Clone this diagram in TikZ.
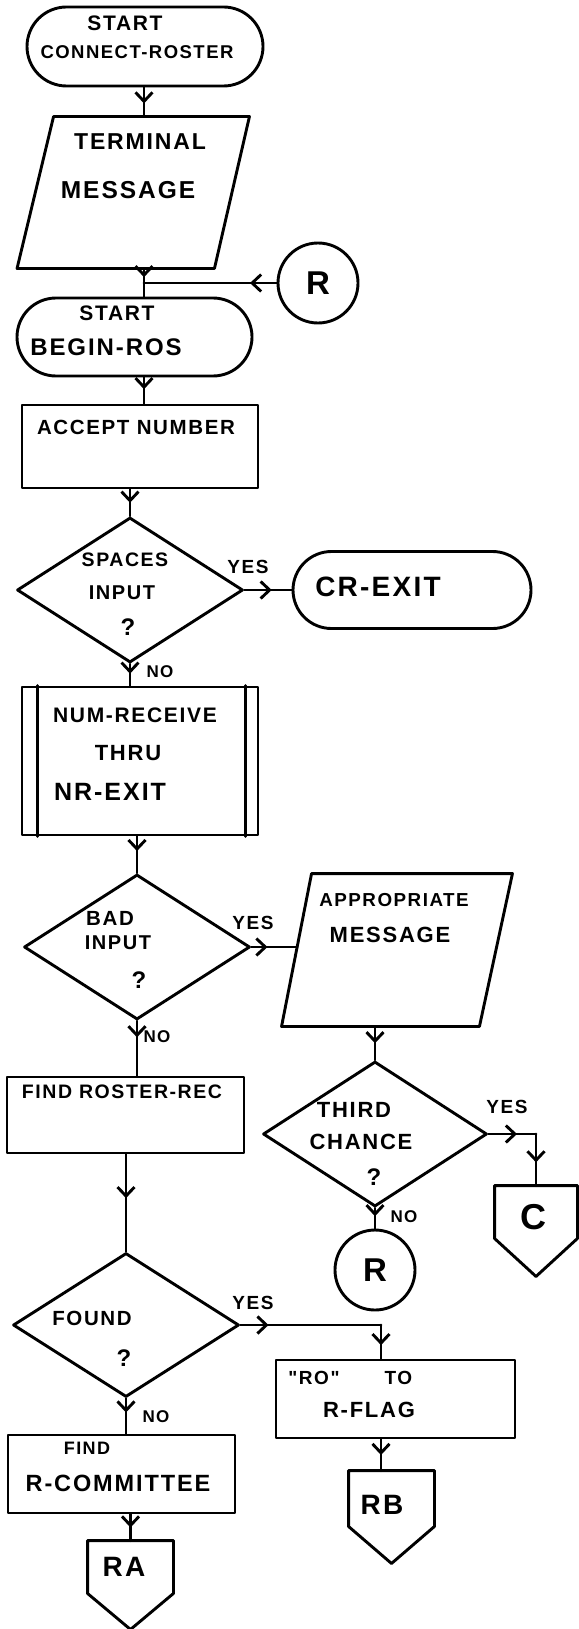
\documentclass[tikz,border=0pt]{standalone}
\usepackage{fontspec}
\newfontfamily\handfont[LetterSpace=8]{Liberation Sans}
\usetikzlibrary{shapes.geometric,shapes.misc,arrows.meta,decorations.markings,calc}
\newcommand\hsz[1]{\fontsize{#1}{#1}\selectfont}

\begin{document}
\begin{tikzpicture}[x=1pt,y=-1pt,
  line width=2.9pt, line join=round, line cap=round,
  box/.style={draw, rectangle, inner sep=0pt},
  term/.style={draw, rounded rectangle, inner sep=0pt},
  dec/.style={draw, diamond, inner sep=0pt},
  conn/.style={draw, circle, inner sep=0pt, minimum size=80pt},
  frame/.style={rectangle, inner sep=0pt},
  txt/.style={inner sep=0pt, font={\handfont\bfseries\hsz{#1}}},
  txt/.default=18,
  flow/.style={postaction={decorate}, decoration={markings,
      mark=at position #1 with {\arrow{Straight Barb[length=9pt,width=17pt]}}}},
  flow/.default=0.5]

\fill[white] (0,0) rectangle (578,1629);
\useasboundingbox (0,0) rectangle (578,1629);

% ---------- entry: CONNECT-ROSTER ----------
\node[term, minimum width=236pt, minimum height=79pt] (start) at (145,46.5) {};
\node[txt=21] (tStartA) at (125,23) {START};
\node[txt=18.5] (tConnect) at (137,52) {CONNECT-ROSTER};

% terminal message (input/output)
\node[frame, minimum width=229.5pt, minimum height=149pt] (msg) at (133.25,192.5) {};
\draw ($(msg.north west)+(36.5,0)$) -- (msg.north east) -- ($(msg.south east)+(-35,0)$) -- (msg.south west) -- cycle;
\node[txt=23] (tTerminal) at (140,142) {TERMINAL};
\node[txt=24.5] (tMessage) at (128,190) {MESSAGE};

% re-entry point R
\coordinate (J) at (144,283);
\node[conn] (rA) at (318,283) {};
\node[txt=33] (tRA) at (rA) {R};

% BEGIN-ROS
\node[term, minimum width=235pt, minimum height=78pt] (begin) at (134.5,337) {};
\node[txt=21] (tStartB) at (117,313) {START};
\node[txt=24] (tBegin) at (106,347) {BEGIN-ROS};

% accept number
\node[box, minimum width=236pt, minimum height=83pt] (accept) at (140,446.5) {};
\node[txt=20.5] (tAccept) at (136,427) {ACCEPT NUMBER};

% spaces input ?
\node[dec, minimum width=226pt, minimum height=145pt] (spaces) at (130,590) {};
\node[txt=19.5] (tSpaces) at (125,560) {SPACES};
\node[txt=20] (tInputA) at (122,593) {INPUT};
\node[txt=24] (tQA) at (128,627) {?};
\node[txt=19] (yesA) at (248,567) {YES};
\node[txt=17] (noA) at (160,672) {NO};

\node[term, minimum width=238pt, minimum height=77pt] (crexit) at (412,590) {};
\node[txt=28] (tCrExit) at (378,587) {CR-EXIT};

% NUM-RECEIVE THRU NR-EXIT (predefined process)
\node[box, minimum width=236pt, minimum height=148pt] (numrec) at (140,761) {};
\draw ($(numrec.north west)+(17,0)$) -- ($(numrec.south west)+(17,0)$);
\draw ($(numrec.north east)+(-14,0)$) -- ($(numrec.south east)+(-14,0)$);
\node[txt=21] (tNumRec) at (135,715) {NUM-RECEIVE};
\node[txt=22] (tThru) at (128,753) {THRU};
\node[txt=25] (tNrExit) at (110,792) {NR-EXIT};

% bad input ?
\node[dec, minimum width=226pt, minimum height=145pt] (bad) at (137,947) {};
\node[txt=20.5] (tBad) at (110,918) {BAD};
\node[txt=20] (tInputB) at (118,943) {INPUT};
\node[txt=24] (tQB) at (139,980) {?};
\node[txt=19] (yesB) at (253,923) {YES};
\node[txt=17] (noB) at (157,1037) {NO};

% appropriate message
\node[frame, minimum width=228pt, minimum height=150pt] (appr) at (397,950) {};
\coordinate (apprTL) at ($(appr.north west)+(30,0)$);
\draw (apprTL) -- (appr.north east) -- ($(appr.south east)+(-33,0)$) -- (appr.south west) -- cycle;
\coordinate (apprIn) at ($(apprTL)!0.48!(appr.south west)$);
\node[txt=18.8] (tAppr) at (394,900) {APPROPRIATE};
\node[txt=22] (tMessageB) at (390,935) {MESSAGE};

% third chance ?
\node[dec, minimum width=224pt, minimum height=145pt] (third) at (375,1134) {};
\node[txt=22] (tThird) at (354,1110) {THIRD};
\node[txt=22] (tChance) at (361,1142) {CHANCE};
\node[txt=24] (tQC) at (374,1177) {?};
\node[txt=19] (yesC) at (507,1107) {YES};
\node[txt=17] (noC) at (404,1217) {NO};

% off-page connector C
\node[frame, minimum width=80pt, minimum height=50pt] (coff) at (536,1212) {};
\draw (coff.north west) -- (coff.north east) -- (coff.south east) -- ($(coff.south)+(0,38)$) -- (coff.south west) -- cycle;
\node[txt=36] (tC) at (533,1217) {C};
\coordinate (cTurn) at (third.east -| coff.north);

% back to R
\node[conn] (rB) at (375,1270) {};
\node[txt=33] (tRB) at (rB) {R};

% find roster-rec
\node[box, minimum width=237pt, minimum height=76pt] (findros) at (125.5,1115) {};
\node[txt=19.5] (tFindRos) at (122,1092) {FIND ROSTER-REC};

% found ?
\node[dec, minimum width=226pt, minimum height=144pt] (found) at (126,1325) {};
\node[txt=20.5] (tFound) at (92,1318) {FOUND};
\node[txt=24] (tQD) at (124,1358) {?};
\node[txt=19] (yesD) at (253,1303) {YES};
\node[txt=17] (noD) at (156,1417) {NO};

% "RO" TO R-FLAG
\node[box, minimum width=239pt, minimum height=78pt] (rotoflag) at (395.5,1399) {};
\node[txt=19, anchor=west] (tRoTo) at (287,1378) {"RO"\hspace{45pt}TO};
\node[txt=22] (tRFlag) at (369,1410) {R-FLAG};
\coordinate (fTurn) at (381,1325);

\node[frame, minimum width=83pt, minimum height=53pt] (rboff) at (391.5,1498.5) {};
\draw (rboff.north west) -- (rboff.north east) -- (rboff.south east) -- ($(rboff.south)+(0,37)$) -- (rboff.south west) -- cycle;
\node[txt=28] (tRBoff) at (382,1505) {RB};

% find R-COMMITTEE
\node[box, minimum width=227pt, minimum height=78pt] (findcom) at (121.5,1474) {};
\node[txt=18] (tFind) at (87,1448) {FIND};
\node[txt=23.5] (tCommittee) at (118,1483) {R-COMMITTEE};

\node[frame, minimum width=83pt, minimum height=50pt] (raoff) at (130.5,1567) {};
\draw (raoff.north west) -- (raoff.north east) -- (raoff.south east) -- ($(raoff.south)+(0,36)$) -- (raoff.south west) -- cycle;
\node[txt=28] (tRAoff) at (124,1567) {RA};

% ---------- connectors ----------
\draw[flow=0.55] (J |- start.south) -- (J |- msg.north);
\draw[flow=0.6] (J |- msg.south) -- (J);
\draw (J) -- (J |- begin.north);
\draw[flow=0.2] (rA.west) -- (J);
\draw[flow=0.45] (J |- begin.south) -- (J |- accept.north);
\draw[flow=0.5] (spaces.north |- accept.south) -- (spaces.north);
\draw[flow=0.58] (spaces.east) -- (crexit.west);
\draw[flow=0.45] (spaces.south) -- (spaces.south |- numrec.north);
\draw[flow=0.4] (bad.north |- numrec.south) -- (bad.north);
\draw[flow=0.35] (bad.east) -- (bad.east -| apprIn);
\draw[flow=0.5] (third.north |- appr.south) -- (third.north);
\draw[flow=0.6] (third.east) -- (cTurn);
\draw[flow=0.55] (cTurn) -- (coff.north);
\draw[flow=0.4] (third.south) -- (third.south |- rB.north);
\draw[flow=0.3] (bad.south) -- (bad.south |- findros.north);
\draw[flow=0.45] (found.north |- findros.south) -- (found.north);
\draw[flow=0.2] (found.east) -- (fTurn);
\draw[flow=0.6] (fTurn) -- (fTurn |- rotoflag.north);
\draw[flow=0.4] (found.south) -- (found.south |- findcom.north);
\draw[flow=0.5] (fTurn |- rotoflag.south) -- (fTurn |- rboff.north);
\draw[flow=0.5] (raoff.north |- findcom.south) -- (raoff.north);
\end{tikzpicture}
\end{document}
